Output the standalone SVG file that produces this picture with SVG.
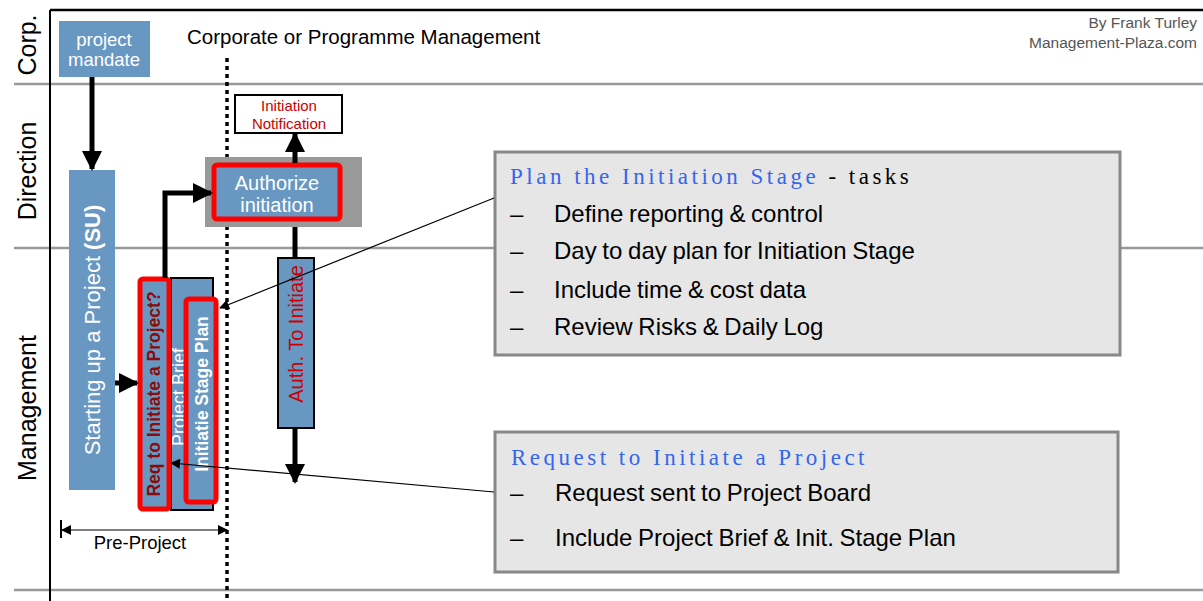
<svg xmlns="http://www.w3.org/2000/svg" width="1203" height="601" viewBox="0 0 1203 601">
<style>
text{font-family:"Liberation Sans",Arial,sans-serif}
.lane{font-size:25px;fill:#000;text-anchor:middle}
.blue{fill:#6897C2}
.wt{fill:#fff;text-anchor:middle}
.sep{stroke:#999;stroke-width:2.5}
.thick{stroke:#000;stroke-width:5;fill:none}
.thin{stroke:#000;stroke-width:1.2;fill:none}
.red{fill:none;stroke:#f00;stroke-width:5}
.call{fill:#e6e6e6;stroke:#888;stroke-width:3}
.ttl{font-family:"Liberation Serif","Times New Roman",serif;font-size:23px;letter-spacing:3.5px}
.bul{font-size:24px;fill:#000;word-spacing:-1px}
</style>
<defs>
<marker id="ah" viewBox="0 0 10 10" refX="9" refY="5" markerWidth="4" markerHeight="4" orient="auto"><path d="M0,0L10,5L0,10z" fill="#000"/></marker>
<marker id="as" viewBox="0 0 10 10" refX="9" refY="5" markerWidth="12" markerHeight="10" orient="auto" markerUnits="userSpaceOnUse"><path d="M0,0L10,5L0,10z" fill="#000"/></marker>
<marker id="as0" viewBox="0 0 10 10" refX="1" refY="5" markerWidth="12" markerHeight="10" orient="auto" markerUnits="userSpaceOnUse"><path d="M10,0L0,5L10,10z" fill="#000"/></marker>
</defs>
<rect width="1203" height="601" fill="#fff"/>
<g id="frame">
<line x1="14" y1="84" x2="1203" y2="84" class="sep"/>
<line x1="14" y1="248" x2="1203" y2="248" class="sep"/>
<line x1="14" y1="590" x2="1203" y2="590" class="sep"/>
<line x1="50" y1="10" x2="1203" y2="10" stroke="#000" stroke-width="2.5"/>
<line x1="50" y1="10" x2="50" y2="601" stroke="#000" stroke-width="2"/>
<line x1="227" y1="58" x2="227" y2="601" stroke="#000" stroke-width="3.5" stroke-dasharray="4,4"/>
<text class="lane" transform="translate(36,45) rotate(-90)">Corp.</text>
<text class="lane" transform="translate(36,171) rotate(-90)">Direction</text>
<text class="lane" transform="translate(36,408) rotate(-90)">Management</text>
<text x="187" y="44" font-size="20.5">Corporate or Programme Management</text>
<text x="1197" y="28" font-size="15.5" fill="#555" text-anchor="end">By Frank Turley</text>
<text x="1197" y="48" font-size="15.5" fill="#555" text-anchor="end">Management-Plaza.com</text>
</g>
<g id="mandate">
<rect x="59" y="21" width="91" height="56" class="blue"/>
<text x="104" y="46" font-size="18.5" class="wt">project</text>
<text x="104" y="66" font-size="18.5" class="wt">mandate</text>
</g>
<g id="su">
<rect x="69" y="170" width="46" height="320" class="blue"/>
<text transform="translate(100,330) rotate(-90)" font-size="22" class="wt">Starting up a Project <tspan font-weight="bold">(SU)</tspan></text>
</g>
<g id="authorize">
<rect x="205" y="157" width="157" height="70" fill="#999"/>
<rect x="214" y="165" width="126" height="54" class="blue"/>
<rect x="214" y="165" width="126" height="54" rx="3" class="red"/>
<text x="277" y="190" font-size="20" class="wt">Authorize</text>
<text x="277" y="212" font-size="20" class="wt">initiation</text>
</g>
<g id="notification">
<rect x="235" y="95" width="107" height="38" fill="#fff" stroke="#000" stroke-width="2"/>
<text x="289" y="111" font-size="15" fill="#c00" text-anchor="middle">Initiation</text>
<text x="289" y="129" font-size="15" fill="#c00" text-anchor="middle">Notification</text>
</g>
<g id="auth">
<rect x="278" y="258" width="36" height="170" class="blue" stroke="#000" stroke-width="2"/>
<text transform="translate(303,334) rotate(-90)" font-size="20" fill="#c00" text-anchor="middle">Auth. To Initiate</text>
</g>
<g id="brief">
<rect x="171" y="278" width="42" height="232" class="blue" stroke="#000" stroke-width="2"/>
<text transform="translate(185,397) rotate(-90)" font-size="18" class="wt">Project Brief</text>
</g>
<g id="req">
<rect x="140" y="279" width="29" height="230" class="blue"/>
<rect x="140" y="279" width="29" height="230" rx="3" class="red"/>
<text transform="translate(160,394) rotate(-90)" font-size="17.5" font-weight="bold" fill="#8b0a0a" text-anchor="middle">Req to Initiate a Project?</text>
</g>
<g id="isp">
<rect x="186" y="299" width="30" height="203" class="blue"/>
<rect x="186" y="299" width="30" height="203" rx="3" class="red"/>
<text transform="translate(208,394) rotate(-90)" font-size="17.5" font-weight="bold" class="wt">Initiatie Stage Plan</text>
</g>
<g id="plan-callout">
<rect x="495" y="152" width="625" height="203" class="call"/>
<text x="510" y="184" class="ttl"><tspan fill="#3366ee">Plan the Initiation Stage</tspan><tspan fill="#000"> - tasks</tspan></text>
<text x="510" y="222" class="bul">–</text><text x="554" y="222" class="bul">Define reporting &amp; control</text>
<text x="510" y="259" class="bul">–</text><text x="554" y="259" class="bul">Day to day plan for Initiation Stage</text>
<text x="510" y="298" class="bul">–</text><text x="554" y="298" class="bul">Include time &amp; cost data</text>
<text x="510" y="335" class="bul">–</text><text x="554" y="335" class="bul">Review Risks &amp; Daily Log</text>
</g>
<g id="req-callout">
<rect x="495" y="432" width="623" height="140" class="call"/>
<text x="511" y="465" class="ttl" fill="#3366ee">Request to Initiate a Project</text>
<text x="510" y="501" class="bul">–</text><text x="555" y="501" class="bul">Request sent to Project Board</text>
<text x="510" y="546" class="bul">–</text><text x="555" y="546" class="bul">Include Project Brief &amp; Init. Stage Plan</text>
</g>
<g id="connectors">
<line x1="92" y1="77" x2="92" y2="169" class="thick" marker-end="url(#ah)"/>
<line x1="115" y1="383" x2="137" y2="383" class="thick" marker-end="url(#ah)"/>
<polyline points="165,278 165,193 211,193" class="thick" marker-end="url(#ah)"/>
<line x1="295" y1="163" x2="295" y2="134" class="thick" marker-end="url(#ah)"/>
<line x1="295" y1="227" x2="295" y2="258" class="thick"/>
<line x1="295" y1="428" x2="295" y2="482" class="thick" marker-end="url(#ah)"/>
<line x1="494" y1="198" x2="220" y2="308" class="thin" marker-end="url(#as)"/>
<line x1="494" y1="492" x2="171" y2="463" class="thin" marker-end="url(#as)"/>
<line x1="61" y1="520" x2="61" y2="538" stroke="#000" stroke-width="2"/>
<line x1="62" y1="530" x2="227" y2="530" class="thin" marker-start="url(#as0)" marker-end="url(#as)"/>
<text x="140" y="549" font-size="18.5" text-anchor="middle">Pre-Project</text>
</g>
</svg>
